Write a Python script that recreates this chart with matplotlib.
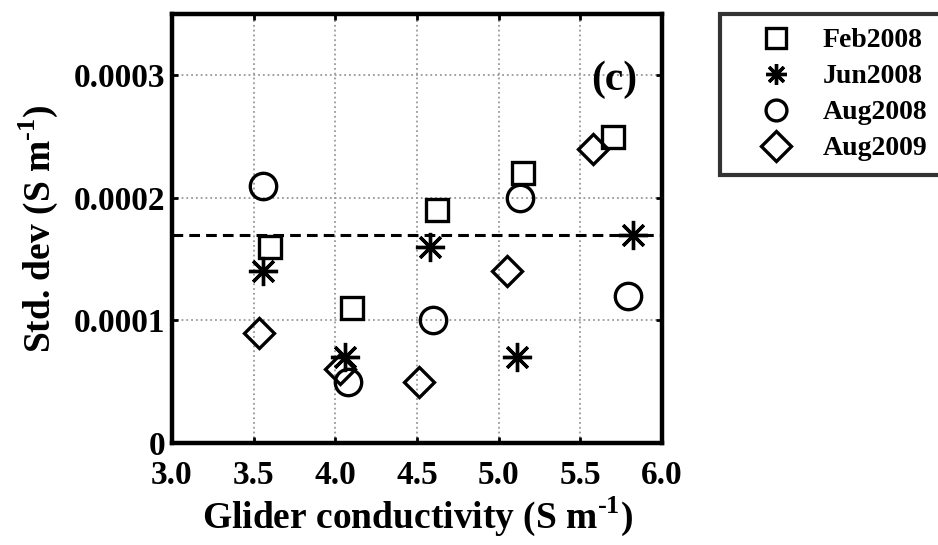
import numpy as np
import matplotlib
matplotlib.use("Agg")
import matplotlib.pyplot as plt

plt.rcParams['font.family'] = ['Liberation Serif', 'DejaVu Serif']
plt.rcParams['font.weight'] = 'bold'
plt.rcParams['mathtext.fontset'] = 'custom'
plt.rcParams['mathtext.rm'] = 'Liberation Serif:bold'
plt.rcParams['mathtext.bf'] = 'Liberation Serif:bold'

# data
feb08_x = [3.60, 4.10, 4.62, 5.15, 5.70]
feb08_y = [0.00016, 0.00011, 0.00019, 0.00022, 0.00025]
jun08_x = [3.56, 4.06, 4.58, 5.11, 5.82]
jun08_y = [0.00014, 0.00007, 0.00016, 0.00007, 0.00017]
aug08_x = [3.56, 4.08, 4.60, 5.13, 5.79]
aug08_y = [0.00021, 0.00005, 0.00010, 0.00020, 0.00012]
aug09_x = [3.53, 4.03, 4.51, 5.05, 5.58]
aug09_y = [0.00009, 0.00006, 0.00005, 0.00014, 0.00024]
threshold = 0.00017

xticks = [3.0, 3.5, 4.0, 4.5, 5.0, 5.5, 6.0]
yticks = [0, 0.0001, 0.0002, 0.0003]
ytick_labels = ['0', '0.0001', '0.0002', '0.0003']

fig = plt.figure(figsize=(9.38, 5.45), dpi=100)
ax = fig.add_axes([172/938, 1 - 443/545, (662-172)/938, (443-14)/545])

ax.grid(True, color='#999999', linestyle=':', linewidth=1.3)
ax.axhline(threshold, color='black', linestyle='--', linewidth=2.2, dashes=(3.5, 2), zorder=2)

kw = dict(linestyle='none', markerfacecolor='none', markeredgecolor='black',
          markeredgewidth=2.4, zorder=3)
ax.plot(feb08_x, feb08_y, marker='s', markersize=16, label='Feb2008', **kw)
ax.plot(jun08_x, jun08_y, marker=(8, 2, 0), markersize=21, label='Jun2008', **kw)
ax.plot(aug08_x, aug08_y, marker='o', markersize=19, label='Aug2008', **kw)
ax.plot(aug09_x, aug09_y, marker='D', markersize=15, label='Aug2009', **kw)

ax.set_xlim(3.0, 6.0)
ax.set_ylim(0, 0.00035)
ax.set_xticks(xticks)
ax.set_xticklabels(['%.1f' % t for t in xticks])
ax.set_yticks(yticks)
ax.set_yticklabels(ytick_labels)
ax.tick_params(direction='in', length=4, width=2, labelsize=24, top=True, right=True)
ax.tick_params(axis='x', pad=12)
ax.tick_params(axis='y', pad=5)
for s in ax.spines.values():
    s.set_linewidth(3.2)

ax.set_xlabel(r'Glider conductivity (S m$^{\text{-1}}$)', fontsize=27, fontweight='bold', labelpad=3)
ax.set_ylabel(r'Std. dev (S m$^{\text{-1}}$)', fontsize=27, fontweight='bold', labelpad=10)

ax.text(5.71, 0.000296, '(c)', fontsize=30, fontweight='bold', ha='center', va='center')

leg = fig.legend(loc='upper left', bbox_to_anchor=(720/938, 1 - 14/545), fontsize=20,
                 frameon=True, fancybox=False, edgecolor='black', handlelength=3.0,
                 handletextpad=0.2, borderpad=0.5, labelspacing=0.38, borderaxespad=0)
leg.get_frame().set_linewidth(3)
for h in leg.legend_handles:
    h.set_markersize(15)

fig.savefig('out.png', dpi=100)
